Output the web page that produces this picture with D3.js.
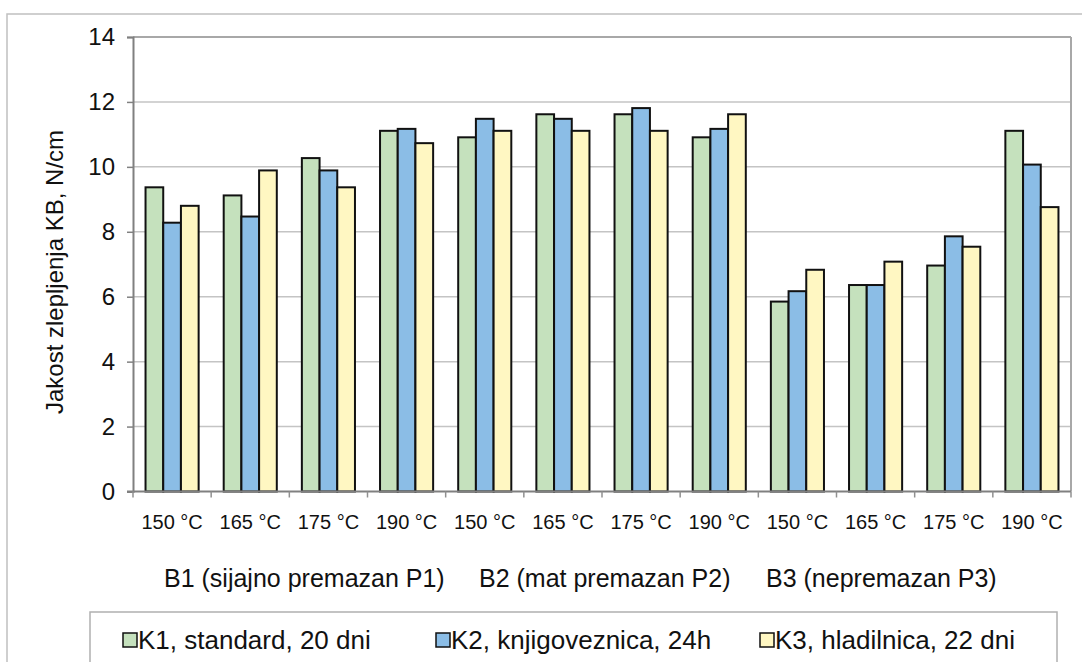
<!DOCTYPE html>
<html>
<head>
<meta charset="utf-8">
<script src="https://cdn.jsdelivr.net/npm/d3@7"></script>
<style>
  body { margin: 0; background: #fff; }
  svg { display: block; font-family: Arial, "Liberation Sans", sans-serif; }
</style>
</head>
<body>
<script>
// temperature per bar group
var temps = ["150 °C", "165 °C", "175 °C", "190 °C",
             "150 °C", "165 °C", "175 °C", "190 °C",
             "150 °C", "165 °C", "175 °C", "190 °C"];
var groupLabels = ["B1 (sijajno premazan P1)", "B2 (mat premazan P2)", "B3 (nepremazan P3)"];
var seriesNames = ["K1, standard, 20 dni", "K2, knjigoveznica, 24h", "K3, hladilnica, 22 dni"];

var k1 = [9.37, 9.12, 10.27, 11.11, 10.91, 11.62, 11.62, 10.91, 5.85, 6.36, 6.96, 11.11];
var k2 = [8.28, 8.47, 9.89, 11.17, 11.48, 11.48, 11.81, 11.17, 6.17, 6.36, 7.86, 10.07];
var k3 = [8.80, 9.89, 9.37, 10.73, 11.11, 11.11, 11.11, 11.62, 6.83, 7.08, 7.54, 8.76];
var yTicks = [0, 2, 4, 6, 8, 10, 12, 14];

var colors = ["#c5e1bd", "#8bbde6", "#fff7c2"];

var W = 1082, H = 662;
var pLeft = 133, pRight = 1071, pTop = 37, pBottom = 491.5;

var svg = d3.select("body").append("svg")
    .attr("width", W)
    .attr("height", H);

// outer frame
svg.append("rect")
    .attr("x", 7).attr("y", 14)
    .attr("width", 1200).attr("height", 800)
    .attr("fill", "#fff")
    .attr("stroke", "#c0c0c0")
    .attr("stroke-width", 1.5);

var x = d3.scaleBand().domain(d3.range(temps.length)).range([pLeft, pRight]).paddingInner(0).paddingOuter(0);
var y = d3.scaleLinear().domain([0, 14]).range([pBottom, pTop]);
var bw = 17.7;
var offset = (x.bandwidth() - bw * 3) / 2;

// gridlines
svg.append("g")
    .selectAll("line")
    .data(yTicks.filter(function(d) { return d > 0; }))
    .enter().append("line")
    .attr("x1", pLeft).attr("x2", pRight)
    .attr("y1", function(d) { return y(d); })
    .attr("y2", function(d) { return y(d); })
    .attr("stroke", function(d) { return d == 14 ? "#a8a8a8" : "#c4c4c4"; })
    .attr("stroke-width", function(d) { return d == 14 ? 2 : 1.5; });

// plot border right side
svg.append("line")
    .attr("x1", pRight).attr("x2", pRight)
    .attr("y1", pTop).attr("y2", pBottom)
    .attr("stroke", "#a8a8a8").attr("stroke-width", 2);

// y axis
var yAxis = svg.append("g")
    .attr("transform", "translate(" + pLeft + ",0)")
    .call(d3.axisLeft(y).tickValues(yTicks).tickSize(6).tickPadding(12));
yAxis.select(".domain").attr("stroke", "#808080").attr("stroke-width", 2);
yAxis.selectAll(".tick line").attr("stroke", "#808080").attr("stroke-width", 1.5);
yAxis.selectAll(".tick text")
    .attr("font-size", "24px")
    .attr("fill", "#111")
    .attr("font-family", "Arial, 'Liberation Sans', sans-serif");

// bars
var series = [k1, k2, k3];
series.forEach(function(vals, s) {
    svg.append("g")
        .selectAll("rect")
        .data(vals)
        .enter().append("rect")
        .attr("x", function(d, i) { return x(i) + offset + s * bw; })
        .attr("y", function(d) { return y(d); })
        .attr("width", bw)
        .attr("height", function(d) { return y(0) - y(d); })
        .attr("fill", colors[s])
        .attr("stroke", "#111")
        .attr("stroke-width", 2);
});

// x axis
var xAxis = svg.append("g")
    .attr("transform", "translate(0," + pBottom + ")");
xAxis.append("line")
    .attr("x1", pLeft - 6).attr("x2", pRight)
    .attr("stroke", "#808080").attr("stroke-width", 2);
xAxis.selectAll(".xt")
    .data(d3.range(temps.length + 1))
    .enter().append("line")
    .attr("class", "xt")
    .attr("x1", function(d) { return pLeft + d * x.bandwidth(); })
    .attr("x2", function(d) { return pLeft + d * x.bandwidth(); })
    .attr("y1", 0).attr("y2", 6)
    .attr("stroke", "#909090").attr("stroke-width", 1.5);
xAxis.selectAll(".xl")
    .data(temps)
    .enter().append("text")
    .attr("class", "xl")
    .attr("x", function(d, i) { return x(i) + x.bandwidth() / 2; })
    .attr("y", 37)
    .attr("text-anchor", "middle")
    .attr("font-size", "20px")
    .attr("fill", "#111")
    .text(function(d) { return d; });

// y axis title
svg.append("text")
    .attr("transform", "translate(63,272) rotate(-90)")
    .attr("text-anchor", "middle")
    .attr("font-size", "24px")
    .attr("fill", "#111")
    .text("Jakost zlepljenja KB, N/cm");

// group labels
var gx = [164, 479, 766];
svg.selectAll(".gl")
    .data(groupLabels)
    .enter().append("text")
    .attr("class", "gl")
    .attr("x", function(d, i) { return gx[i]; })
    .attr("y", 587)
    .attr("font-size", "25px")
    .attr("fill", "#111")
    .text(function(d) { return d; });

// legend
svg.append("rect")
    .attr("x", 90).attr("y", 612)
    .attr("width", 967).attr("height", 100)
    .attr("fill", "#fff")
    .attr("stroke", "#b0b0b0")
    .attr("stroke-width", 1.5);
var lx = [123, 436, 760];
var leg = svg.selectAll(".lg")
    .data(seriesNames)
    .enter().append("g")
    .attr("class", "lg")
    .attr("transform", function(d, i) { return "translate(" + lx[i] + ",633)"; });
leg.append("rect")
    .attr("width", 14).attr("height", 14)
    .attr("fill", function(d, i) { return colors[i]; })
    .attr("stroke", "#111").attr("stroke-width", 1.5);
leg.append("text")
    .attr("x", 15).attr("y", 16)
    .attr("font-size", "26px")
    .attr("fill", "#111")
    .text(function(d) { return d; });
</script>
</body>
</html>
